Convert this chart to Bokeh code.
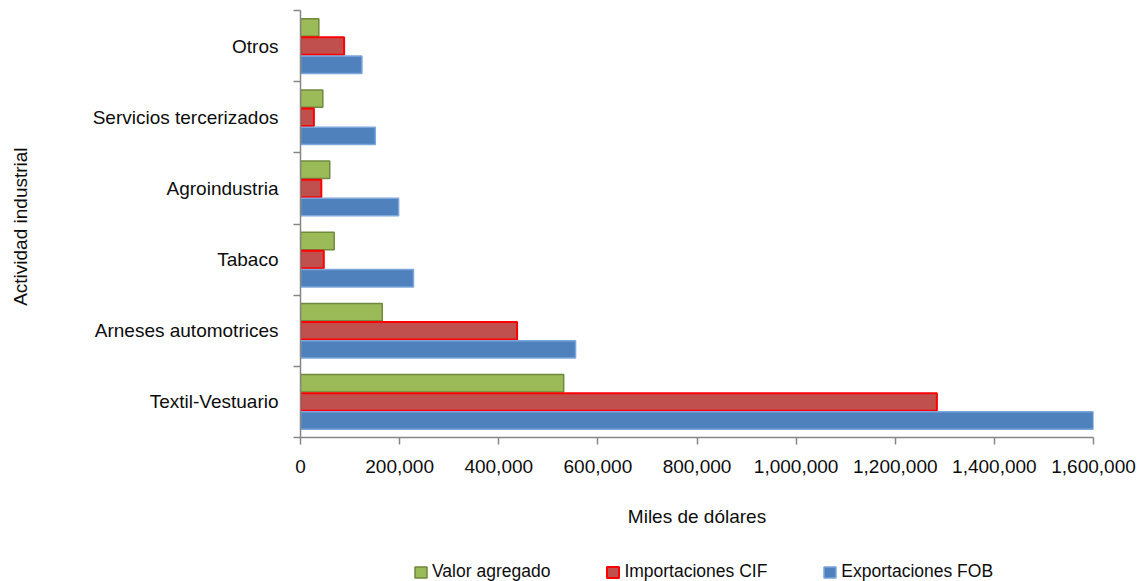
from bokeh.plotting import figure
from bokeh.layouts import column
from bokeh.models import (ColumnDataSource, Range1d, FixedTicker, NumeralTickFormatter,
                          Legend, LegendItem)
from bokeh.embed import file_html
from bokeh.resources import INLINE

categories = ["Textil-Vestuario", "Arneses automotrices", "Tabaco",
              "Agroindustria", "Servicios tercerizados", "Otros"]
valor_agregado = [531000, 165000, 68000, 59000, 45000, 37000]
importaciones_cif = [1284000, 437000, 47000, 42000, 27000, 88000]
exportaciones_fob = [1605000, 555000, 228000, 198000, 151000, 124000]
x_ticks = [0, 200000, 400000, 600000, 800000, 1000000, 1200000, 1400000, 1600000]
series_names = ["Valor agregado", "Importaciones CIF", "Exportaciones FOB"]

FONT = "Liberation Sans"
TXT = "#0d0d0d"
AX = "#868686"
FILLS = ["#9BBB59", "#C0504D", "#4F81BD"]
LINES = ["#71893F", "#FF0000", "#7DA7DC"]
LWS = [1.5, 2, 1.5]

n = len(categories)
centers = [i + 0.5 for i in range(n)]
off = 0.262
bh = 0.245

src = ColumnDataSource(dict(
    cat=categories,
    va=valor_agregado, cif=importaciones_cif, fob=exportaciones_fob,
    y_va=[c + off for c in centers],
    y_cif=centers,
    y_fob=[c - off for c in centers],
))

W = 1141
FRAME_LEFT = 300
p = figure(width=W, height=540, output_backend="svg", toolbar_location=None,
           x_range=Range1d(0, 1600000), y_range=Range1d(0, n),
           min_border_left=FRAME_LEFT, min_border_right=W - 1093, min_border_top=10,
           min_border_bottom=540 - 437)
p.outline_line_color = None
p.grid.visible = False

p.hbar(y="y_va", right="va", left=0, height=bh, source=src,
       fill_color=FILLS[0], line_color=LINES[0], line_width=LWS[0])
p.hbar(y="y_cif", right="cif", left=0, height=bh, source=src,
       fill_color=FILLS[1], line_color=LINES[1], line_width=LWS[1])
p.hbar(y="y_fob", right="fob", left=0, height=bh, source=src,
       fill_color=FILLS[2], line_color=LINES[2], line_width=LWS[2])

# x axis
xa = p.xaxis[0]
xa.ticker = FixedTicker(ticks=x_ticks, minor_ticks=[])
xa.formatter = NumeralTickFormatter(format="0,0")
xa.axis_line_color = AX
xa.axis_line_width = 1.5
xa.major_tick_line_color = AX
xa.major_tick_line_width = 1.5
xa.major_tick_out = 7
xa.major_tick_in = 0
xa.major_label_text_font = FONT
xa.major_label_text_font_size = "19px"
xa.major_label_text_color = TXT
xa.major_label_standoff = 15
xa.axis_label = "Miles de dólares"
xa.axis_label_text_font = FONT
xa.axis_label_text_font_size = "19px"
xa.axis_label_text_font_style = "normal"
xa.axis_label_text_color = TXT
xa.axis_label_standoff = 30

# y axis
ya = p.yaxis[0]
ya.ticker = FixedTicker(ticks=centers, minor_ticks=list(range(n + 1)))
ya.major_label_overrides = {c: name for c, name in zip(centers, categories)}
ya.axis_line_color = AX
ya.axis_line_width = 1.5
ya.major_tick_line_color = None
ya.major_tick_out = 0
ya.major_tick_in = 0
ya.minor_tick_line_color = AX
ya.minor_tick_line_width = 1.5
ya.minor_tick_out = 7
ya.minor_tick_in = 0
ya.major_label_text_font = FONT
ya.major_label_text_font_size = "19px"
ya.major_label_text_color = TXT
ya.major_label_standoff = 15
ya.axis_label = "Actividad  industrial"
ya.axis_label_text_font = FONT
ya.axis_label_text_font_size = "19px"
ya.axis_label_text_font_style = "normal"
ya.axis_label_text_color = TXT
ya.axis_label_standoff = 59

# legend strip below the chart (legend keys only; the key renderers are hidden)
lg = figure(width=W, height=41, output_backend="svg", toolbar_location=None,
            x_range=Range1d(0, 1), y_range=Range1d(0, 1),
            x_axis_location=None, y_axis_location=None,
            min_border=0)
lg.outline_line_color = None
lg.grid.visible = False
items = []
for name, fc, lc, lw in zip(series_names, FILLS, LINES, LWS):
    r = lg.hbar(y=[0.5], right=[0.5], left=[0], height=0.5,
                fill_color=fc, line_color=lc, line_width=lw)
    r.visible = False
    items.append(LegendItem(label=name, renderers=[r]))
legend = Legend(items=items, orientation="horizontal", location=(413 - FRAME_LEFT, -1))
legend.click_policy = "none"
legend.padding = 0
legend.margin = 0
legend.spacing = 55
legend.border_line_color = None
legend.background_fill_alpha = 0
legend.label_text_font = FONT
legend.label_text_font_size = "17.5px"
legend.label_text_color = TXT
legend.glyph_width = 15
legend.glyph_height = 14
legend.label_standoff = 4
lg.add_layout(legend, "center")

layout = column(p, lg, spacing=0)
open("out.html", "w").write(file_html(layout, INLINE))
